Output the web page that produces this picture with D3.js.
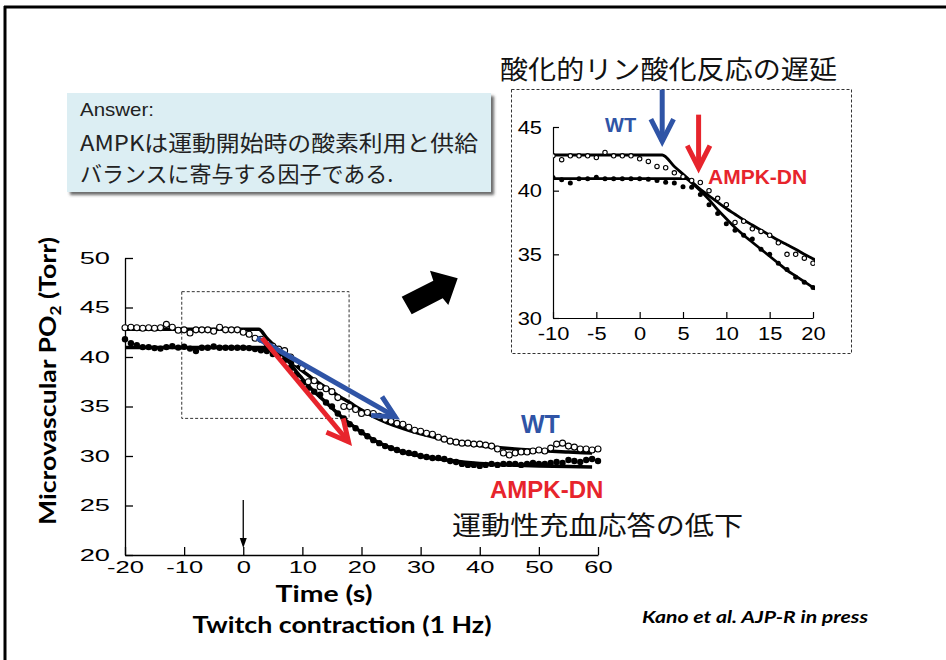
<!DOCTYPE html>
<html>
<head>
<meta charset="utf-8">
<script src="https://cdn.jsdelivr.net/npm/d3@7"></script>
<style>
  body { margin: 0; background: #fff; }
  svg { display: block; }
</style>
</head>
<body>
<div id="chart"></div>
<script>
// time axis (s) and measured PO2 values, one per second
const times = [-20,-19,-18,-17,-16,-15,-14,-13,-12,-11,-10,-9,-8,-7,-6,-5,-4,-3,-2,-1,
  0,1,2,3,4,5,6,7,8,9,10,11,12,13,14,15,16,17,18,19,20,
  21,22,23,24,25,26,27,28,29,30,31,32,33,34,35,36,37,38,39,40,
  41,42,43,44,45,46,47,48,49,50,51,52,53,54,55,56,57,58,59,60];

const wtValues = [42.95,43.0,42.95,42.9,42.95,42.9,42.95,43.3,43.0,42.7,
  42.74,42.43,42.74,42.74,42.74,42.6,43.0,42.74,42.74,42.74,
  42.5,42.3,41.9,41.8,41.4,41.1,40.8,40.64,40.0,39.4,38.9,37.5,37.6,37.0,36.8,36.5,35.9,35.0,35.0,34.7,34.3,
  34.4,34.3,34.0,33.7,33.5,33.3,33.2,32.9,32.6,32.5,32.3,32.2,31.9,31.7,31.5,31.4,31.3,31.3,31.2,31.2,
  31.1,31.0,30.7,30.3,30.1,30.3,30.4,30.4,30.5,30.6,30.5,30.8,31.2,31.3,31.0,30.9,30.7,30.7,30.6,30.7];

const dnValues = [41.8,41.4,41.2,41.0,41.0,40.9,40.85,41.0,41.1,40.95,
  41.03,40.85,40.6,40.93,40.93,41.06,40.93,40.93,40.93,40.93,
  40.93,40.9,40.8,40.67,40.6,40.3,40.27,39.7,38.9,38.2,37.4,36.9,36.5,36.2,35.4,35.0,34.3,33.8,33.2,32.8,32.4,
  32.0,31.6,31.3,31.0,30.8,30.6,30.4,30.3,30.2,30.0,29.9,29.8,29.8,29.7,29.5,29.4,29.2,29.1,29.1,29.0,
  29.1,29.2,29.1,29.2,29.2,29.2,29.1,29.2,29.3,29.2,29.2,29.3,29.4,29.3,29.6,29.5,29.4,29.6,29.7,29.5];

// fitted curves
const wtFitTimes = [-20,2.6,4,5,6,7,8,9,10,11,12,13,14,15,16,17,18,19,20,22,24,26,28,30,32,35,40,45,50,55,59];
const wtFitValues = [42.8,42.8,41.9,41.3,40.7,40.1,39.6,39.1,38.6,38.15,37.7,37.3,36.9,36.5,36.1,35.75,35.4,35.0,34.65,
  34.0,33.45,33.0,32.6,32.25,31.95,31.55,31.05,30.75,30.55,30.4,30.3];
const dnFitTimes = [-20,5.3,6,7,8,9,10,11,12,13,14,15,16,17,18,19,20,22,24,26,28,30,32,35,40,45,50,55,59];
const dnFitValues = [40.95,40.95,40.6,40.0,39.3,38.5,37.8,37.1,36.5,35.95,35.4,34.85,34.3,33.75,33.3,32.85,32.4,
  31.65,31.05,30.6,30.25,30.0,29.8,29.55,29.25,29.1,29.0,28.95,28.9];

const mainXTicks = [-20,-10,0,10,20,30,40,50,60];
const mainYTicks = [20,25,30,35,40,45,50];
const insetXTicks = [-10,-5,0,5,10,15,20];
const insetYTicks = [30,35,40,45];

const BLUE = "#2f54a6", RED = "#e7242c";
const SANS = "'Liberation Sans', Arial, sans-serif";
const CAL = "Lato, 'Open Sans', sans-serif";
const JP = "'Noto Sans CJK JP', sans-serif";

const W = 946, H = 660;
const svg = d3.select("#chart").append("svg").attr("width", W).attr("height", H);

const defs = svg.append("defs");
const shadow = defs.append("filter").attr("id", "shadow").attr("x", "-5%").attr("y", "-5%").attr("width", "115%").attr("height", "120%");
shadow.append("feDropShadow").attr("dx", 3).attr("dy", 3).attr("stdDeviation", 1.5)
  .attr("flood-color", "#444").attr("flood-opacity", 0.8);

// slide frame
svg.append("line").attr("x1", 4).attr("x2", W).attr("y1", 7).attr("y2", 7).attr("stroke", "#000").attr("stroke-width", 3);
svg.append("line").attr("x1", 5).attr("x2", 5).attr("y1", 6).attr("y2", H).attr("stroke", "#000").attr("stroke-width", 3);

// the tick labels in the figure look horizontally stretched
function stretch(sel, k) {
  sel.each(function () {
    const w = this.getComputedTextLength();
    d3.select(this).attr("textLength", w * k).attr("lengthAdjust", "spacingAndGlyphs");
  });
}

function arrow(g, x1, y1, x2, y2, color, width, head) {
  const a = Math.atan2(y2 - y1, x2 - x1), s = 27 * Math.PI / 180;
  g.append("line").attr("x1", x1).attr("y1", y1).attr("x2", x2).attr("y2", y2)
    .attr("stroke", color).attr("stroke-width", width);
  const b1 = [x2 - head * Math.cos(a - s), y2 - head * Math.sin(a - s)];
  const b2 = [x2 - head * Math.cos(a + s), y2 - head * Math.sin(a + s)];
  g.append("path").attr("d", `M${b1}L${x2},${y2}L${b2}`)
    .attr("fill", "none").attr("stroke", color).attr("stroke-width", width).attr("stroke-linejoin", "miter");
}

const plain = d => String(d);   // hyphen minus, as on the slide

// ---------- main chart ----------
const x = d3.scaleLinear().domain([-20, 60]).range([125, 598]);
const y = d3.scaleLinear().domain([20, 50]).range([555, 258]);
const main = svg.append("g");

const xAx = main.append("g").attr("transform", `translate(0,${y(20)})`)
  .call(d3.axisBottom(x).tickValues(mainXTicks).tickFormat(plain).tickSizeInner(-8).tickSizeOuter(0).tickPadding(6));
const yAx = main.append("g").attr("transform", `translate(${x(-20)},0)`)
  .call(d3.axisLeft(y).tickValues(mainYTicks).tickFormat(plain).tickSizeInner(-8).tickSizeOuter(0).tickPadding(15));
[xAx, yAx].forEach(a => {
  a.selectAll("path,line").attr("stroke", "#000").attr("stroke-width", 1.3);
  a.selectAll("text").attr("font-family", SANS).attr("font-size", 17).attr("fill", "#000");
});
stretch(xAx.selectAll("text"), 1.5);
stretch(yAx.selectAll("text"), 1.6);

// zoom box
main.append("rect").attr("x", x(-10.4)).attr("y", y(46.6))
  .attr("width", x(17.9) - x(-10.4)).attr("height", y(33.8) - y(46.6))
  .attr("fill", "none").attr("stroke", "#333").attr("stroke-width", 1).attr("stroke-dasharray", "3,2");

const wt = times.map((t, i) => ({ t, v: wtValues[i] }));
const dn = times.map((t, i) => ({ t, v: dnValues[i] }));
const wtFit = wtFitTimes.map((t, i) => ({ t, v: wtFitValues[i] }));
const dnFit = dnFitTimes.map((t, i) => ({ t, v: dnFitValues[i] }));

function drawSeries(g, sx, sy, lw, rOpen, rFill, tmin, tmax) {
  const line = d3.line().x(d => sx(d.t)).y(d => sy(d.v)).curve(d3.curveMonotoneX);
  [wtFit, dnFit].forEach(f => g.append("path").datum(f).attr("d", line)
    .attr("fill", "none").attr("stroke", "#000").attr("stroke-width", lw));
  const inRange = d => d.t >= tmin && d.t <= tmax;
  g.selectAll(".dn").data(dn.filter(inRange)).enter().append("circle")
    .attr("cx", d => sx(d.t)).attr("cy", d => sy(d.v)).attr("r", rFill).attr("fill", "#000");
  g.selectAll(".wt").data(wt.filter(inRange)).enter().append("circle")
    .attr("cx", d => sx(d.t)).attr("cy", d => sy(d.v)).attr("r", rOpen)
    .attr("fill", "#fff").attr("stroke", "#000").attr("stroke-width", 1.1);
}
drawSeries(main.append("g"), x, y, 3.5, 3, 3.2, -20, 60);

// trend arrows
arrow(main, x(2.33), y(41.92), x(25.7), y(33.97), BLUE, 5, 24);
arrow(main, x(3.17), y(41.92), x(17.8), y(31.44), RED, 5, 24);

// contraction onset marker
main.append("line").attr("x1", x(0)).attr("x2", x(0)).attr("y1", 500).attr("y2", 540)
  .attr("stroke", "#000").attr("stroke-width", 1.3);
main.append("path").attr("d", `M${x(0) - 3.5},538L${x(0) + 3.5},538L${x(0)},548Z`).attr("fill", "#000");

// labels
main.append("text").attr("x", 521).attr("y", 433).attr("font-family", SANS).attr("font-weight", "bold")
  .attr("font-size", 25).attr("fill", BLUE).text("WT");
main.append("text").attr("x", 490).attr("y", 498).attr("font-family", SANS).attr("font-weight", "bold")
  .attr("font-size", 24).attr("fill", RED).text("AMPK-DN");
main.append("text").attr("x", 452).attr("y", 535).attr("font-family", JP).attr("font-size", 26)
  .attr("textLength", 291).attr("lengthAdjust", "spacingAndGlyphs").attr("fill", "#111").text("運動性充血応答の低下");

const yl = main.append("text").attr("transform", "translate(56,381) rotate(-90)").attr("text-anchor", "middle")
  .attr("font-family", CAL).attr("font-weight", "bold").attr("font-size", 23).attr("fill", "#000")
  .attr("textLength", 288).attr("lengthAdjust", "spacingAndGlyphs");
yl.append("tspan").text("Microvascular PO");
yl.append("tspan").attr("font-size", 15).attr("dy", 5).text("2");
yl.append("tspan").attr("dy", -5).text(" (Torr)");

main.append("text").attr("x", 324).attr("y", 602).attr("text-anchor", "middle").attr("font-family", CAL)
  .attr("font-weight", "bold").attr("font-size", 22).attr("textLength", 97).attr("lengthAdjust", "spacingAndGlyphs").text("Time (s)");
main.append("text").attr("x", 342).attr("y", 633).attr("text-anchor", "middle").attr("font-family", CAL)
  .attr("font-weight", "bold").attr("font-size", 22).attr("textLength", 299).attr("lengthAdjust", "spacingAndGlyphs")
  .text("Twitch contraction (1 Hz)");
main.append("text").attr("x", 642).attr("y", 623).attr("font-family", CAL).attr("font-weight", "bold")
  .attr("font-style", "italic").attr("font-size", 17).attr("textLength", 226).attr("lengthAdjust", "spacingAndGlyphs")
  .text("Kano et al. AJP-R in press");

// big black arrow pointing to the inset
main.append("path").attr("d", "M401.7,296.7L433.3,280.7L430,270.7L457.7,278.3L448.3,305L442.7,298.3L411.7,314.3Z")
  .attr("fill", "#000");

// ---------- answer box ----------
const ans = svg.append("g");
ans.append("rect").attr("x", 67).attr("y", 93).attr("width", 424).attr("height", 99)
  .attr("fill", "#dceef3").attr("filter", "url(#shadow)");
ans.append("text").attr("x", 80).attr("y", 116).attr("font-family", SANS).attr("font-size", 19).attr("fill", "#222")
  .attr("textLength", 74).attr("lengthAdjust", "spacingAndGlyphs").text("Answer:");
ans.append("text").attr("x", 80).attr("y", 151).attr("font-family", JP).attr("font-size", 22).attr("fill", "#222")
  .attr("textLength", 398).attr("lengthAdjust", "spacingAndGlyphs").text("AMPKは運動開始時の酸素利用と供給");
ans.append("text").attr("x", 80).attr("y", 182).attr("font-family", JP).attr("font-size", 22).attr("fill", "#222")
  .text("バランスに寄与する因子である.");

// ---------- inset ----------
svg.append("text").attr("x", 500).attr("y", 79).attr("font-family", JP).attr("font-size", 26).attr("fill", "#111")
  .attr("textLength", 337).attr("lengthAdjust", "spacingAndGlyphs").text("酸化的リン酸化反応の遅延");

const ins = svg.append("g");
ins.append("rect").attr("x", 511.5).attr("y", 89.5).attr("width", 340).attr("height", 264)
  .attr("fill", "#fff").attr("stroke", "#333").attr("stroke-width", 1).attr("stroke-dasharray", "3,2");

const xi = d3.scaleLinear().domain([-10, 20]).range([553, 813]);
const yi = d3.scaleLinear().domain([30, 45]).range([318, 127]);

const xiAx = ins.append("g").attr("transform", `translate(0,${yi(30)})`)
  .call(d3.axisBottom(xi).tickValues(insetXTicks).tickFormat(plain).tickSizeInner(-6).tickSizeOuter(0).tickPadding(9));
const yiAx = ins.append("g").attr("transform", `translate(${xi(-10)},0)`)
  .call(d3.axisLeft(yi).tickValues(insetYTicks).tickFormat(plain).tickSizeInner(-6).tickSizeOuter(0).tickPadding(11));
[xiAx, yiAx].forEach(a => {
  a.selectAll("path,line").attr("stroke", "#000").attr("stroke-width", 1.2);
  a.selectAll("text").attr("font-family", SANS).attr("font-size", 19).attr("fill", "#000");
});
stretch(xiAx.selectAll("text"), 1.15);
stretch(yiAx.selectAll("text"), 1.15);

defs.append("clipPath").attr("id", "insclip").append("rect")
  .attr("x", xi(-10)).attr("y", yi(45) - 5).attr("width", xi(20) - xi(-10) + 2).attr("height", yi(30) - yi(45) + 5);
drawSeries(ins.append("g").attr("clip-path", "url(#insclip)"), xi, yi, 2.8, 2.2, 2.5, -10, 20);

// delay arrows
arrow(ins, xi(2.6), yi(47.93), xi(2.6), yi(43.87), BLUE, 5, 25);
arrow(ins, xi(6.8), yi(45.97), xi(6.8), yi(41.78), RED, 5, 25);

ins.append("text").attr("x", 605).attr("y", 132).attr("font-family", SANS).attr("font-weight", "bold")
  .attr("font-size", 20).attr("fill", BLUE).text("WT");
ins.append("text").attr("x", 708).attr("y", 184).attr("font-family", SANS).attr("font-weight", "bold")
  .attr("font-size", 21).attr("fill", RED).text("AMPK-DN");
</script>
</body>
</html>
